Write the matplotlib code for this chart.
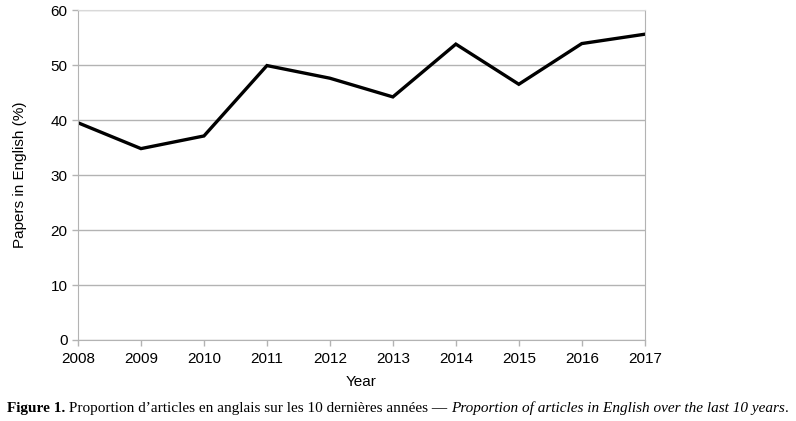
import matplotlib
matplotlib.use("Agg")
import matplotlib.pyplot as plt

# Données
years = [2008, 2009, 2010, 2011, 2012, 2013, 2014, 2015, 2016, 2017]
pct_english = [39.5, 34.8, 37.1, 49.9, 47.6, 44.2, 53.8, 46.5, 53.9, 55.6]
y_ticks = [0, 10, 20, 30, 40, 50, 60]

caption_parts = [
    ("Figure 1.", "bold", "normal"),
    (" Proportion d\u2019articles en anglais sur les 10 dernières années \u2014 ", "normal", "normal"),
    ("Proportion of articles in English over the last 10 years", "normal", "italic"),
    (".", "normal", "normal"),
]

plt.rcParams['font.family'] = ['Liberation Sans', 'DejaVu Sans']

fig = plt.figure(figsize=(7.96, 4.21), dpi=100)
ax = fig.add_axes([0.098, 0.1924, 0.712, 0.7838])

ax.plot(years, pct_english, color='black', linewidth=2.4, solid_joinstyle='miter')

ax.set_xlim(years[0], years[-1])
ax.set_ylim(0, 60)
ax.set_xticks(years)
ax.set_yticks(y_ticks)
ax.tick_params(axis='both', labelsize=11, color='#b3b3b3', length=4, width=1)
ax.tick_params(axis='x', pad=5)
ax.yaxis.grid(True, color='#b3b3b3', linewidth=1)
ax.set_axisbelow(True)
for side in ['left', 'right', 'bottom']:
    ax.spines[side].set_color('#b3b3b3')
ax.spines['top'].set_color('#d9d9d9')

ax.set_xlabel('Year', fontsize=11, labelpad=6)
ax.set_ylabel('Papers in English (%)', fontsize=11, labelpad=17)

# Légende de la figure, morceau par morceau
fig.canvas.draw()
renderer = fig.canvas.get_renderer()
x = 0.009
for txt, weight, style in caption_parts:
    t = fig.text(x, 0.022, txt, fontsize=11, family='Liberation Serif',
                 fontweight=weight, fontstyle=style, ha='left', va='baseline')
    bb = t.get_window_extent(renderer=renderer)
    x = bb.x1 / fig.bbox.width

fig.savefig('out.png', dpi=100)
